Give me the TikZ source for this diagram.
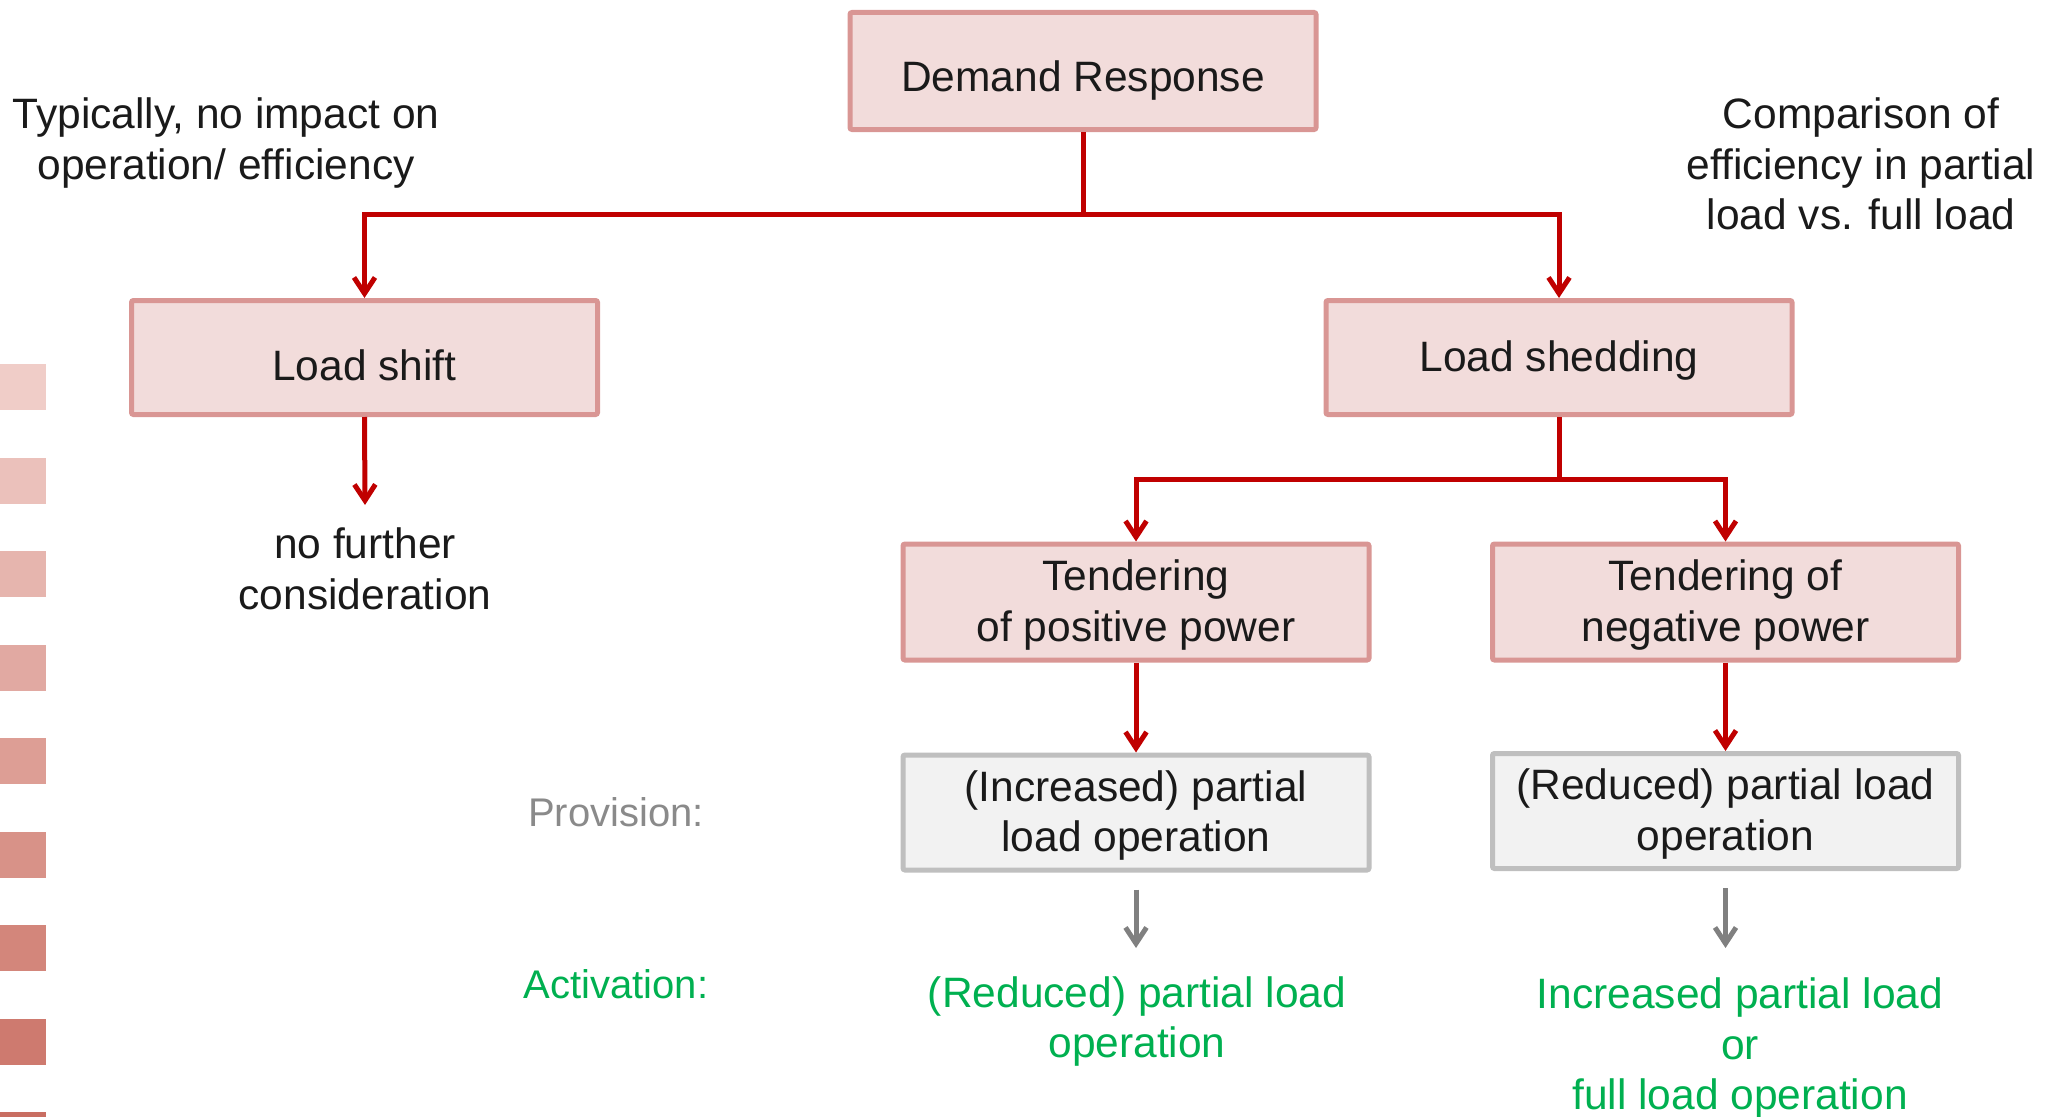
\documentclass[tikz,border=0pt]{standalone}
\usepackage{fontspec}
\setmainfont{Liberation Sans}
\usetikzlibrary{arrows.meta}
\definecolor{boxfill}{HTML}{F2DCDB}
\definecolor{boxline}{HTML}{D99694}
\definecolor{linkred}{HTML}{C00000}
\definecolor{provfill}{HTML}{F2F2F2}
\definecolor{provline}{HTML}{BFBFBF}
\definecolor{arrowgrey}{HTML}{808080}
\definecolor{labelgrey}{HTML}{8A8A8A}
\definecolor{actgreen}{HTML}{00B050}
\definecolor{inktext}{HTML}{1A1A1A}
\definecolor{sqlight}{HTML}{F0CDC8}
\definecolor{sqdark}{HTML}{C96E62}
% two-line box text, lowered by #1 without changing its extent
\newcommand{\boxlines}[2]{\raisebox{-#1}[\height][\depth]{\begin{tabular}{@{}c@{}}#2\end{tabular}}}
\begin{document}
\begin{tikzpicture}[x=1pt,y=-1pt,
  txt/.style={font=\fontsize{42.5}{50.5}\selectfont, text=inktext, align=center},
  pinkbox/.style={txt, draw=boxline, fill=boxfill, line width=5pt, rounded corners=2pt,
    minimum width=466pt, minimum height=116pt, inner sep=0pt},
  provbox/.style={pinkbox, draw=provline, fill=provfill},
  redlink/.style={draw=linkred, line width=5pt},
  redarrow/.style={redlink, -{Straight Barb[length=16pt,width=21pt]}},
  greyarrow/.style={draw=arrowgrey, line width=5pt, -{Straight Barb[length=16pt,width=21pt]}},
  note/.style={txt, inner sep=0pt},
  side/.style={font=\fontsize{40}{48}\selectfont, inner sep=0pt},
  act/.style={txt, text=actgreen, inner sep=0pt}
]
\useasboundingbox (0,0) rectangle (2058,1116);

% colour scale along the left edge
\foreach \i [evaluate=\i as \p using \i*12.5, evaluate=\i as \yy using 364+\i*93.5] in {0,...,8}
  \fill[sqdark!\p!sqlight] (0,\yy) rectangle (46,\yy+46);

% boxes
\node[pinkbox, minimum height=117pt, text height=42pt, text depth=0pt] (dr) at (1083,71) {Demand Response};
\node[pinkbox, minimum height=114pt, text height=45pt, text depth=0pt] (shift) at (364.5,357.5) {Load shift};
\node[pinkbox, minimum height=114pt, text height=32pt, text depth=5pt] (shed) at (1559,357.5) {Load shedding};
\node[pinkbox] (tpos) at (1136,602) {\boxlines{4pt}{Tendering\\of positive power}};
\node[pinkbox] (tneg) at (1725.5,602) {\boxlines{4pt}{Tendering of\\negative power}};
\node[provbox, minimum height=115pt] (p1) at (1136,812.5) {\boxlines{4pt}{(Increased) partial\\load operation}};
\node[provbox, minimum height=115pt] (p2) at (1725.5,811) {\boxlines{4pt}{(Reduced) partial load\\operation}};

% free-standing texts
\node[note] (nf) at (365,569) {no further\\consideration};
\node[note] (lnote) at (226,143) {Typically, no impact on\\operation/ efficiency};
\node[note] (rnote) at (1861,164) {Comparison of\\efficiency in partial\\load vs. full load};
\node[side, text=labelgrey] (prov) at (616,812) {Provision:};
\node[side, text=actgreen] (actl) at (616,984) {Activation:};
\node[act] (a1) at (1137,1021.5) {(Reduced) partial load\\operation};
\node[act] (a2) at (1740,1048) {Increased partial load\\or\\full load operation};

% connectors
\coordinate (j1) at (1083,214);
\coordinate (j2) at (1559,479);
\coordinate (nfin) at (365,505);
\coordinate (g1) at (1136,948);
\coordinate (g2) at (1725.5,948);

\draw[redlink] (dr.south) -- (j1);
\draw[redarrow] (j1) -| (shift.north);
\draw[redarrow] (j1) -| (shed.north);
\draw[redarrow] (shift.south) -- (nfin);
\draw[redlink] (shed.south) -- (j2);
\draw[redarrow] (j2) -| (tpos.north);
\draw[redarrow] (j2) -| (tneg.north);
\draw[redarrow] (tpos.south) -- (p1.north);
\draw[redarrow] (tneg.south) -- (p2.north);
\draw[greyarrow, shorten <=17pt] (p1.south) -- (g1);
\draw[greyarrow, shorten <=17pt] (p2.south) -- (g2);
\end{tikzpicture}
\end{document}
